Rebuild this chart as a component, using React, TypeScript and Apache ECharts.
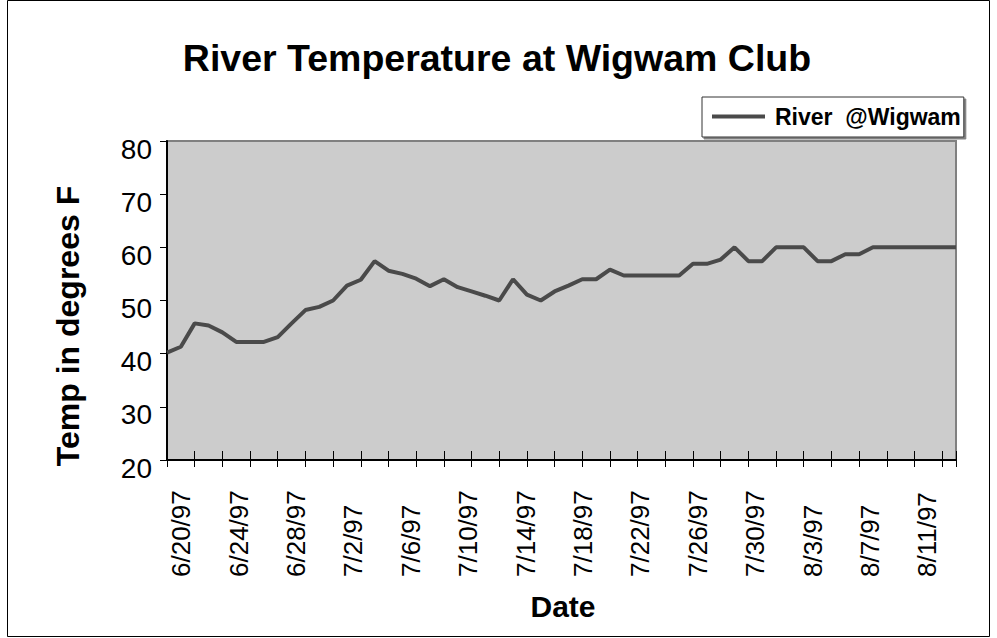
import React, { useEffect, useRef } from "react";
import * as echarts from "echarts";

// Dates of the daily readings (series categories)
const dates: string[] = [
  "6/19/97", "6/20/97", "6/21/97", "6/22/97", "6/23/97", "6/24/97", "6/25/97", "6/26/97",
  "6/27/97", "6/28/97", "6/29/97", "6/30/97", "7/1/97", "7/2/97", "7/3/97", "7/4/97",
  "7/5/97", "7/6/97", "7/7/97", "7/8/97", "7/9/97", "7/10/97", "7/11/97", "7/12/97",
  "7/13/97", "7/14/97", "7/15/97", "7/16/97", "7/17/97", "7/18/97", "7/19/97", "7/20/97",
  "7/21/97", "7/22/97", "7/23/97", "7/24/97", "7/25/97", "7/26/97", "7/27/97", "7/28/97",
  "7/29/97", "7/30/97", "7/31/97", "8/1/97", "8/2/97", "8/3/97", "8/4/97", "8/5/97",
  "8/6/97", "8/7/97", "8/8/97", "8/9/97", "8/10/97", "8/11/97", "8/12/97", "8/13/97",
  "8/14/97", "8/15/97",
];

// Category labels as laid out under the axis (6/19/97 .. 8/13/97)
const labelDates: string[] = dates.slice(0, 56);

// River temperature, degrees F
const riverTemps: number[] = [
  40.2, 41.3, 45.7, 45.3, 44.0, 42.2, 42.2, 42.2, 43.1, 45.7,
  48.2, 48.8, 50.0, 52.8, 53.9, 57.4, 55.6, 55.0, 54.1, 52.7,
  54.0, 52.5, 51.7, 50.9, 50.0, 54.0, 51.1, 50.0, 51.7, 52.8,
  54.0, 54.0, 55.8, 54.7, 54.7, 54.7, 54.7, 54.7, 56.9, 56.9,
  57.7, 60.0, 57.4, 57.4, 60.0, 60.0, 60.0, 57.4, 57.4, 58.7,
  58.7, 60.0, 60.0, 60.0, 60.0, 60.0, 60.0, 60.0,
];

const seriesName = "River  @Wigwam";
const titleText = "River Temperature at Wigwam Club";
const xTitle = "Date";
const yTitle = "Temp in degrees F";
const yMin = 20;
const yMax = 80;
const yStep = 10;

const FONT = 'Arial, "Liberation Sans", Helvetica, sans-serif';

export default function App() {
  const ref = useRef<HTMLDivElement>(null);

  useEffect(() => {
    if (!ref.current) return;
    const chart = echarts.init(ref.current, undefined, { renderer: "svg" });
    const tickEvery2 = (i: number) => i % 2 === 0 || i === dates.length - 1;
    const labelEvery4 = (i: number) => (i - 1) % 4 === 0 && i <= 53;

    chart.setOption({
      animation: false,
      backgroundColor: "#ffffff",
      textStyle: { fontFamily: FONT },
      grid: {
        left: 167,
        right: 41,
        top: 141,
        bottom: 178,
        show: true,
        backgroundColor: "#cccccc",
        borderColor: "#808080",
        borderWidth: 2,
        containLabel: false,
      },
      legend: {
        left: 702,
        top: 97,
        data: [seriesName],
        icon: "rect",
        itemWidth: 53,
        itemHeight: 4,
        itemGap: 0,
        padding: [8, 3, 9, 10],
        backgroundColor: "#ffffff",
        borderColor: "#333333",
        borderWidth: 1,
        shadowColor: "#808080",
        shadowOffsetX: 2,
        shadowOffsetY: 2,
        shadowBlur: 0,
        textStyle: {
          fontSize: 23,
          fontWeight: "bold",
          color: "#000",
          fontFamily: FONT,
          padding: [0, 0, 0, 5],
        },
      },
      xAxis: [
        {
          type: "category",
          data: dates,
          boundaryGap: false,
          position: "bottom",
          axisLine: { show: true, lineStyle: { color: "#000", width: 2 } },
          axisTick: { show: true, interval: tickEvery2, length: 7, lineStyle: { color: "#000", width: 1 } },
          axisLabel: { show: false },
          splitLine: { show: false },
        },
        {
          type: "category",
          data: dates,
          boundaryGap: false,
          position: "bottom",
          axisLine: { show: false },
          axisTick: { show: true, inside: true, interval: tickEvery2, length: 9, lineStyle: { color: "#000", width: 1 } },
          axisLabel: { show: false },
          splitLine: { show: false },
        },
        {
          type: "category",
          data: labelDates,
          boundaryGap: false,
          position: "bottom",
          axisLine: { show: false },
          axisTick: { show: false },
          splitLine: { show: false },
          axisLabel: {
            show: true,
            interval: labelEvery4,
            rotate: 90,
            align: "left",
            verticalAlign: "middle",
            margin: 117,
            fontSize: 26,
            color: "#000",
            fontFamily: FONT,
          },
        },
      ],
      yAxis: {
        type: "value",
        min: yMin,
        max: yMax,
        interval: yStep,
        axisLine: { show: true, lineStyle: { color: "#000", width: 2 } },
        axisTick: { show: true, length: 7, lineStyle: { color: "#000", width: 1 } },
        splitLine: { show: false },
        axisLabel: {
          fontSize: 28,
          color: "#000",
          margin: 15,
          fontFamily: FONT,
          verticalAlign: "top",
          lineHeight: 16,
        },
      },
      series: [
        {
          name: seriesName,
          type: "line",
          xAxisIndex: 0,
          data: riverTemps,
          symbol: "none",
          color: "#4a4a4a",
          lineStyle: { color: "#4a4a4a", width: 4 },
          itemStyle: { color: "#4a4a4a" },
        },
      ],
      graphic: [
        {
          type: "rect",
          shape: { x: 7.5, y: 0.5, width: 982, height: 636 },
          style: { fill: "none", stroke: "#000", lineWidth: 1 },
          silent: true,
          z: -1,
        },
        {
          type: "text",
          x: 497,
          y: 58,
          style: {
            text: titleText,
            font: `bold 37.5px ${FONT}`,
            fill: "#000",
            align: "center",
            verticalAlign: "middle",
          },
        },
        {
          type: "text",
          x: 563,
          y: 606,
          style: {
            text: xTitle,
            font: `bold 30px ${FONT}`,
            fill: "#000",
            align: "center",
            verticalAlign: "middle",
          },
        },
        {
          type: "text",
          x: 68,
          y: 326,
          rotation: Math.PI / 2,
          style: {
            text: yTitle,
            font: `bold 32px ${FONT}`,
            fill: "#000",
            align: "center",
            verticalAlign: "middle",
          },
        },
      ],
    });

    return () => chart.dispose();
  }, []);

  return (
    <div
      ref={ref}
      style={{ position: "absolute", left: 0, top: 0, width: 997, height: 638 }}
    />
  );
}
